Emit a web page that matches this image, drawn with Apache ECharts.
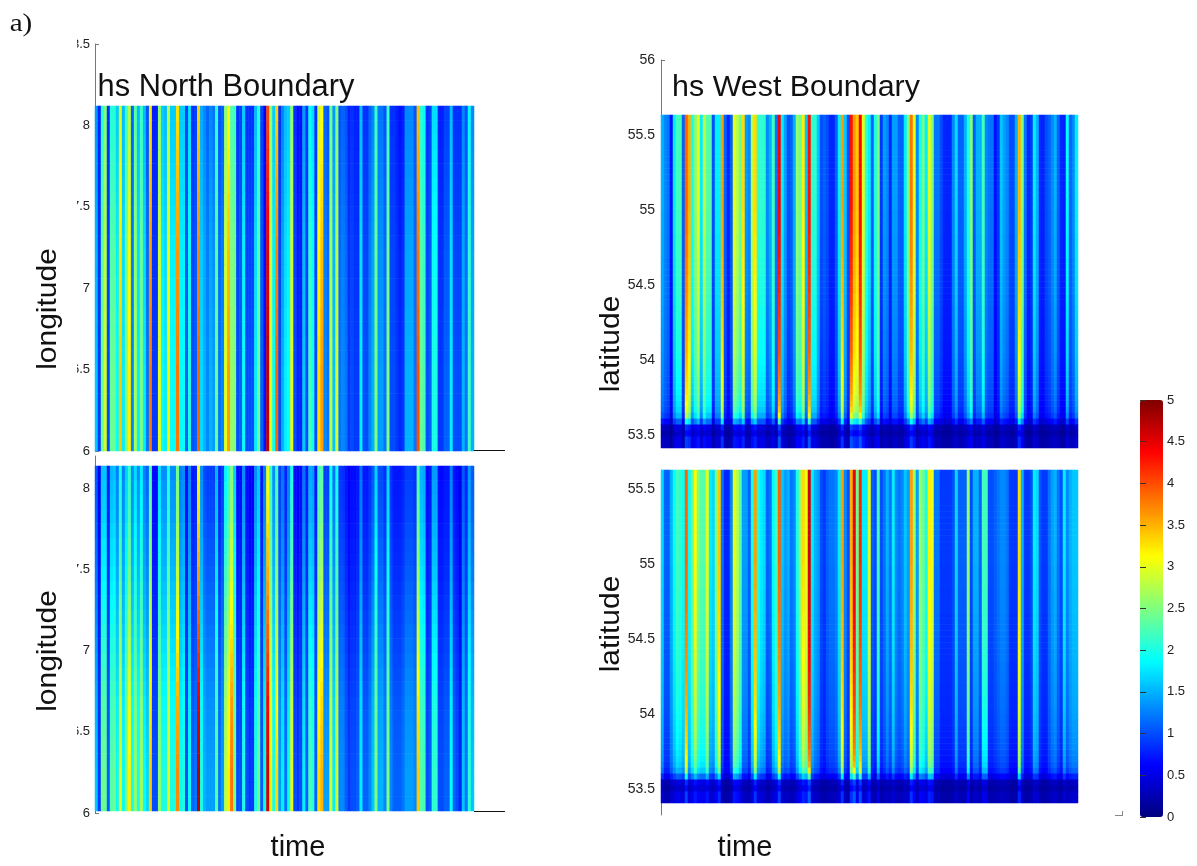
<!DOCTYPE html>
<html><head><meta charset="utf-8">
<style>html,body{margin:0;padding:0;background:#fff}#c{width:1197px;height:866px}</style>
<script src="https://cdn.jsdelivr.net/npm/echarts@6/dist/echarts.min.js"></script>
</head><body><div id="c"></div>
<script>
// Significant wave height (m) read per time step along each panel
const northUpperHs = [1.6,0.9,2.4,2.9,1.0,2.4,2.4,1.9,3.4,1.8,2.5,3.2,1.3,2.7,1.8,2.5,1.8,1.2,3.8,0.9,0.9,3.0,1.9,1.8,3.2,1.9,1.9,3.8,1.9,1.9,1.1,2.0,1.0,1.1,3.9,1.7,1.5,1.3,1.5,1.4,2.4,1.2,1.3,3.0,3.6,2.6,2.5,1.0,1.1,1.9,1.0,1.0,1.0,1.8,2.4,1.1,0.7,4.7,3.0,1.9,3.9,1.0,1.5,1.8,1.9,3.0,1.0,0.8,0.8,1.6,1.0,2.2,2.0,1.0,3.3,3.6,1.3,1.2,2.8,1.6,2.9,1.2,1.3,1.2,0.9,1.0,0.9,0.9,1.8,1.0,1.0,1.3,1.5,2.5,1.4,1.4,1.2,2.5,1.0,1.0,0.9,0.8,0.9,1.5,1.5,1.5,1.2,4.0,2.4,2.2,1.0,1.1,2.0,2.0,0.9,0.9,1.1,1.1,1.8,1.0,1.0,1.0,1.5,1.2,2.2,1.5];
const northLowerHs = [1.6,0.9,2.4,2.4,1.1,2.3,2.4,1.9,3.0,1.9,2.5,3.2,2.0,2.6,2.0,2.7,1.9,1.7,3.4,1.0,1.0,2.6,2.0,2.0,3.0,2.0,2.0,3.7,1.9,2.0,1.0,1.9,1.1,1.2,4.7,2.0,1.5,1.4,1.4,1.4,2.3,1.2,1.4,2.8,3.2,3.8,2.5,1.0,1.0,2.0,1.0,0.9,0.9,2.0,2.4,1.1,1.9,4.6,3.2,2.0,3.3,1.4,1.8,1.2,1.9,3.0,1.0,0.9,1.0,1.8,1.1,2.2,2.1,1.1,3.3,3.5,1.4,1.4,2.9,1.8,2.9,1.3,1.3,1.1,0.9,1.0,1.0,1.1,1.8,1.1,1.1,1.3,1.6,2.5,1.5,1.5,1.3,2.5,1.3,1.1,1.1,1.1,1.2,1.4,1.4,1.4,1.3,3.4,2.3,2.2,1.0,1.1,2.1,2.1,1.0,1.0,1.1,1.1,1.9,1.1,1.0,0.8,1.6,1.2,2.1,1.6];
const westUpperHs = [1.5,1.3,1.2,0.7,1.8,2.2,2.2,1.1,3.9,3.5,2.0,2.5,3.0,1.8,2.8,2.3,2.3,1.0,1.8,1.8,3.6,1.1,0.8,1.1,3.0,2.8,2.4,3.3,1.4,1.3,2.8,3.3,2.1,2.1,2.1,1.3,1.5,2.2,1.2,4.4,1.8,1.4,1.0,1.1,1.5,2.6,2.4,3.2,1.6,4.3,2.1,2.1,1.6,1.0,1.1,1.0,0.8,0.8,1.1,1.8,3.6,1.6,1.0,4.3,3.6,3.4,4.4,3.0,2.1,1.8,1.1,2.0,2.5,0.9,1.4,1.3,0.8,1.4,1.4,1.1,1.1,1.8,2.5,3.8,3.0,1.3,2.0,2.4,1.8,3.0,2.5,1.2,1.2,1.0,0.8,0.8,0.8,1.3,1.7,1.1,1.1,1.5,2.0,2.5,1.1,1.5,1.5,2.2,1.3,1.2,1.2,0.7,0.9,1.6,1.4,1.3,1.0,1.0,1.5,3.5,2.5,1.2,0.8,0.9,1.8,1.5,0.8,0.8,1.0,1.1,1.3,1.5,1.1,0.8,0.8,1.9,1.1,1.3,1.8];
const westLowerHs = [1.7,1.1,1.1,1.5,1.9,2.2,2.1,1.9,3.9,1.9,2.4,3.1,2.5,2.3,2.3,3.0,1.8,1.7,2.5,3.4,1.2,0.8,0.8,1.3,3.0,2.8,2.3,1.4,1.4,1.1,2.0,3.6,2.0,1.8,1.7,1.1,1.2,1.9,2.2,3.9,1.6,1.4,1.5,1.2,1.3,2.0,2.6,3.3,3.0,4.6,1.8,1.5,1.4,1.0,0.9,1.1,1.2,1.2,1.3,1.8,3.6,1.3,1.0,3.5,4.5,2.4,4.2,1.8,1.8,3.0,1.1,1.0,2.2,1.0,1.2,1.5,1.2,1.8,1.3,1.2,1.3,1.6,1.4,3.6,2.6,1.4,2.6,2.4,2.0,3.2,3.0,1.2,1.2,0.9,0.9,0.9,0.9,1.0,1.7,1.1,1.1,1.1,2.6,1.0,1.5,1.5,1.1,2.2,2.2,1.0,1.0,1.1,1.2,1.3,1.3,1.2,0.9,0.9,0.9,3.3,1.5,0.9,0.9,1.0,1.8,1.7,1.0,0.9,0.9,1.2,1.4,1.5,1.2,1.0,1.8,1.3,1.5,1.6,1.6];
// Relative wave height across each boundary, first entry = bottom of the panel
const northUpperProfile = [1,1,1,1,1,1,0.99,0.99,0.98,0.98,0.97,0.97,0.96,0.96,0.95,0.94,0.93,0.92,0.91,0.9,0.89,0.88,0.87,0.86];
const northLowerProfile = [1,1,1,0.99,0.98,0.97,0.96,0.95,0.93,0.91,0.89,0.87,0.85,0.83,0.81,0.79,0.77,0.75,0.74,0.72,0.7,0.69,0.68,0.66];
const westProfile = [0.24,0.24,0.17,0.22,0.5,0.7,0.77,0.8,0.82,0.84,0.85,0.86,0.87,0.88,0.89,0.9,0.91,0.91,0.92,0.92,0.93,0.93,0.94,0.94,0.95,0.95,0.96,0.96,0.96,0.97,0.97,0.97,0.98,0.98,0.98,0.98,0.99,0.99,0.99,0.99,1,1,1,1,1,1,1,1,1,1,1,1,1,1,1,1];
const northTicks = [6,6.5,7,7.5,8,8.5];
const westTicks = [53.5,54,54.5,55,55.5,56];
const jet = ['#00007f','#0000ff','#007fff','#00ffff','#7fff7f','#ffff00','#ff7f00','#ff0000','#7f0000'];

const panels = [
  {hs:northUpperHs, prof:northUpperProfile, heat:[95,106,379,345], axis:[95,44,407], min:6, max:8.5, ticks:northTicks, font:13},
  {hs:northLowerHs, prof:northLowerProfile, heat:[95,466,379,345], axis:[95,456,357], min:6, max:8.2, ticks:northTicks.slice(0,5), font:13},
  {hs:westUpperHs,  prof:westProfile, heat:[661,115,417,333], axis:[661,60,375], min:53.5, max:56, ticks:westTicks, font:14},
  {hs:westLowerHs,  prof:westProfile, heat:[661,470,417,333], axis:[661,470,345], min:53.33, max:55.63, ticks:westTicks.slice(0,5), font:14}
];
const grid=[], xAxis=[], yAxis=[], series=[];
panels.forEach(p=>{
  const g=grid.length;
  grid.push({left:p.heat[0],top:p.heat[1],width:p.heat[2],height:p.heat[3]});
  xAxis.push({gridIndex:g,type:'category',show:false,data:p.hs.map((_,i)=>i)});
  yAxis.push({gridIndex:g,type:'category',show:false,data:p.prof.map((_,i)=>i)});
  const data=[];
  p.prof.forEach((f,r)=>p.hs.forEach((v,t)=>data.push([t,r,+(v*f).toFixed(3)])));
  series.push({type:'heatmap',xAxisIndex:g,yAxisIndex:g,data,progressive:0,animation:false,emphasis:{disabled:true},z:2});
  const a=grid.length;
  grid.push({left:p.axis[0],top:p.axis[1],width:10,height:p.axis[2]});
  xAxis.push({gridIndex:a,type:'value',show:false,min:0,max:1});
  yAxis.push({gridIndex:a,type:'value',min:p.min,max:p.max,splitLine:{show:false},
    axisLine:{show:true,lineStyle:{color:'#777',width:1}},
    axisTick:{show:true,inside:true,length:4,lineStyle:{color:'#777'},customValues:p.ticks},
    axisLabel:{color:'#222',fontFamily:'Liberation Sans',fontSize:p.font,margin:p.font===13?5:6,customValues:p.ticks,formatter:v=>String(v),hideOverlap:false,showMinLabel:true,showMaxLabel:true}});
});
// colorbar tick axes: short outward ticks pulled back over the bar's edges
const cb=grid.length;
grid.push({left:1140,top:400,width:23,height:417});
xAxis.push({gridIndex:cb,type:'value',show:false,min:0,max:1});
yAxis.push({gridIndex:cb,type:'value',min:0,max:5,interval:0.5,position:'right',offset:-3,z:6,splitLine:{show:false},
  axisLine:{show:false},axisTick:{show:true,length:3,lineStyle:{color:'#333'}},
  axisLabel:{color:'#222',fontFamily:'Liberation Sans',fontSize:13,margin:7,formatter:v=>String(v)}});
yAxis.push({gridIndex:cb,type:'value',min:0,max:5,interval:0.5,position:'left',offset:-3,z:6,splitLine:{show:false},
  axisLine:{show:false},axisTick:{show:true,length:3,lineStyle:{color:'#333'}},axisLabel:{show:false}});

const txt=(text,x,y,size,rot,family,sx)=>({type:'text',z:20,x,y,rotation:rot||0,scaleX:sx||1,style:{text,fontSize:size,fontFamily:family||'Liberation Sans',fill:'#111',align:'center',verticalAlign:'middle'}});
const seg=(x1,y1,x2,y2,c)=>({type:'line',z:20,shape:{x1,y1,x2,y2},style:{stroke:c||'#111',lineWidth:1}});
const graphic=[
  {type:'rect',z:15,shape:{x:64,y:36,width:13,height:780},style:{fill:'#fff'}},
  txt('longitude',48,309,28,Math.PI/2,null,1.07),
  txt('longitude',48,651,28,Math.PI/2,null,1.07),
  txt('latitude',611,344,28,Math.PI/2,null,1.07),
  txt('latitude',611,624,28,Math.PI/2,null,1.07),
  txt('time',298,848,29),
  txt('time',745,848,29),
  txt('hs North Boundary',226,88,30.8),
  txt('hs West Boundary',796,88,30.4),
  txt('a)',21,24,26,0,'Liberation Serif',1.12),
  seg(474,450.5,505,450.5),
  seg(474,811.5,505,811.5),
  seg(1115,815.5,1123,815.5,'#888'),
  seg(1122.5,811,1122.5,816,'#888')
];
const chart=echarts.init(document.getElementById('c'),null,{renderer:'canvas'});
chart.setOption({animation:false,backgroundColor:'#fff',grid,xAxis,yAxis,series,graphic,
  visualMap:{type:'continuous',min:0,max:5,seriesIndex:[0,1,2,3],calculable:false,realtime:false,
    left:1140,top:400,padding:0,itemWidth:23,itemHeight:417,text:null,showLabel:false,z:1,hoverLink:false,
    inRange:{color:jet}}
});
</script></body></html>
